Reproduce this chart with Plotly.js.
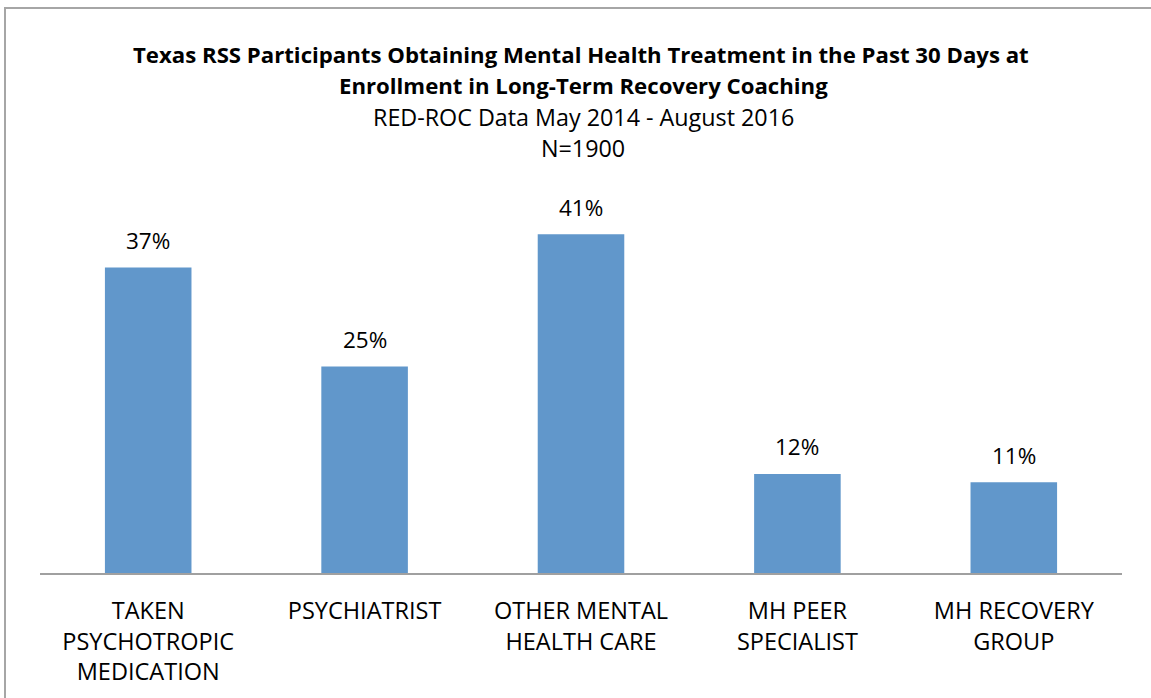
<!DOCTYPE html>
<html><head><meta charset="utf-8">
<script src="https://cdn.plot.ly/plotly-3.0.1.min.js"></script>
<style>html,body{margin:0;padding:0;background:#fff;}#chart{width:1151px;height:698px;}</style>
</head><body><div id="chart"></div>
<script>
const categories = ["TAKEN<br>PSYCHOTROPIC<br>MEDICATION", "PSYCHIATRIST", "OTHER MENTAL<br>HEALTH CARE", "MH PEER<br>SPECIALIST", "MH RECOVERY<br>GROUP"];
const values = [37, 25, 41, 12, 11];
const valueLabels = values.map(v => v + "%");
const titleLines = ["Texas RSS Participants Obtaining Mental Health Treatment in the Past 30 Days at", "Enrollment in Long-Term Recovery Coaching"];
const subtitleLines = ["RED-ROC Data May 2014 - August 2016", "N=1900"];

const FONT = "'Open Sans', sans-serif";
const trace = {
  type: "bar", x: categories, y: values,
  marker: {color: "#6197cb"}, hoverinfo: "none"
};
const W = 1151, H = 698, ml = 40, mr = 29, mt = 160, mb = 125;
const pw = W - ml - mr, ph = H - mt - mb;
const px = X => (X - ml) / pw;
const py = Y => (H - mb - Y) / ph;
const valueAnnotations = categories.map((c, i) => ({
  text: valueLabels[i], x: c, y: values[i], xref: "x", yref: "y",
  yanchor: "middle", yshift: 27, showarrow: false,
  font: {family: FONT, size: 22.5, color: "#000"}
}));
const layout = {
  width: W, height: H, margin: {l: ml, r: mr, t: mt, b: mb},
  paper_bgcolor: "#fff", plot_bgcolor: "#fff", showlegend: false,
  bargap: 0.6,
  xaxis: {showline: true, linecolor: "#a0a0a0", linewidth: 2, ticks: "", showgrid: false,
    ticklabelstandoff: 16,
    tickfont: {family: FONT, size: 23.5, color: "#000"}},
  yaxis: {range: [0, 50], visible: false, showgrid: false, zeroline: false},
  shapes: [{type: "rect", xref: "paper", yref: "paper", x0: px(5), x1: px(1200), y0: py(8), y1: py(760),
    line: {color: "#a6a6a6", width: 2}, fillcolor: "rgba(0,0,0,0)", layer: "below"}],
  annotations: [
    {text: "<b>" + titleLines[0] + "</b>", xref: "paper", yref: "paper", x: px(581), y: py(54), yanchor: "middle", showarrow: false, font: {family: FONT, size: 22.2, color: "#000"}},
    {text: "<b>" + titleLines[1] + "</b>", xref: "paper", yref: "paper", x: px(583), y: py(85), yanchor: "middle", showarrow: false, font: {family: FONT, size: 22.2, color: "#000"}},
    {text: subtitleLines[0], xref: "paper", yref: "paper", x: px(583), y: py(117), yanchor: "middle", showarrow: false, font: {family: FONT, size: 23.3, color: "#000"}},
    {text: subtitleLines[1], xref: "paper", yref: "paper", x: px(583), y: py(148), yanchor: "middle", showarrow: false, font: {family: FONT, size: 23.3, color: "#000"}}
  ].concat(valueAnnotations)
};
Plotly.newPlot("chart", [trace], layout, {displayModeBar: false, staticPlot: true});
</script></body></html>
